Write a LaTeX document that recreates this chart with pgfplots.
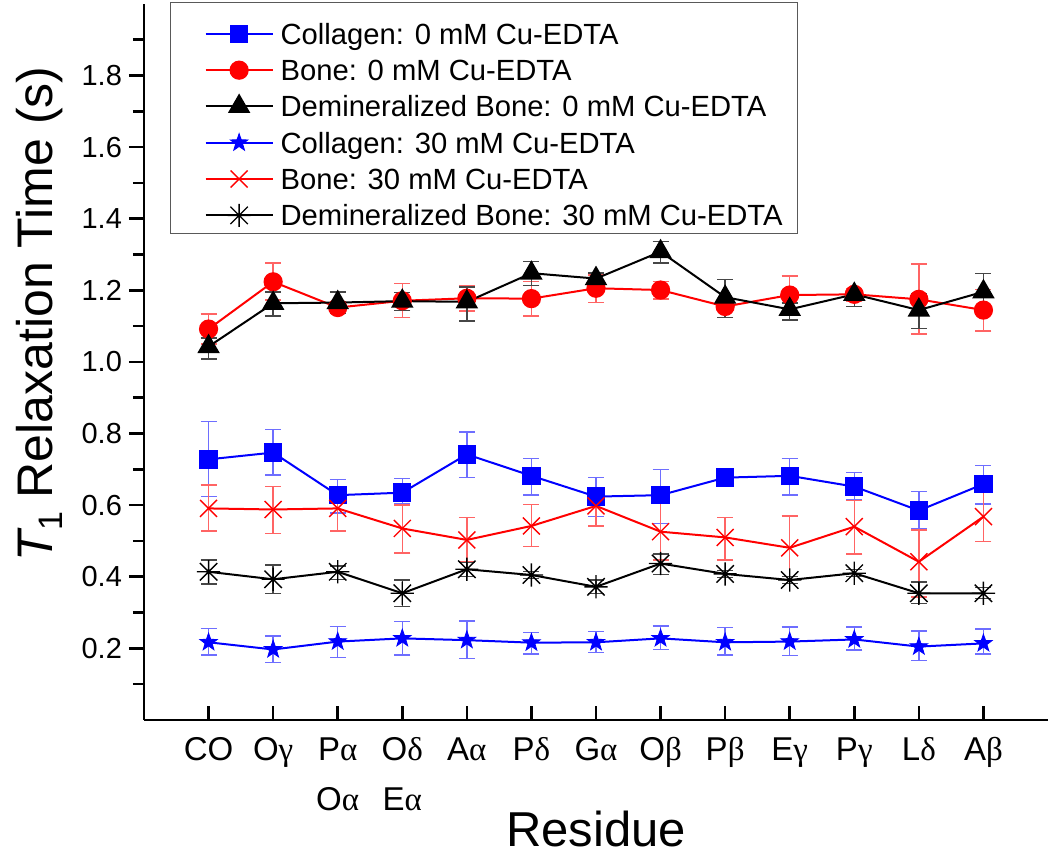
\documentclass[border=0pt]{standalone}
\usepackage{pgfplots}
\usepackage{pgfplotstable}
\pgfplotsset{compat=1.18}
\usepackage{fontspec}
\setmainfont{Liberation Sans}
\newfontfamily\grk{Liberation Serif}
\newcommand\g[1]{{\grk #1}}

\pgfdeclareplotmark{fstar}{%
  \pgfpathmoveto{\pgfpointpolar{90}{\pgfplotmarksize}}%
  \pgfpathlineto{\pgfpointpolar{126}{0.4\pgfplotmarksize}}%
  \pgfpathlineto{\pgfpointpolar{162}{\pgfplotmarksize}}%
  \pgfpathlineto{\pgfpointpolar{198}{0.4\pgfplotmarksize}}%
  \pgfpathlineto{\pgfpointpolar{234}{\pgfplotmarksize}}%
  \pgfpathlineto{\pgfpointpolar{270}{0.4\pgfplotmarksize}}%
  \pgfpathlineto{\pgfpointpolar{306}{\pgfplotmarksize}}%
  \pgfpathlineto{\pgfpointpolar{342}{0.4\pgfplotmarksize}}%
  \pgfpathlineto{\pgfpointpolar{18}{\pgfplotmarksize}}%
  \pgfpathlineto{\pgfpointpolar{54}{0.4\pgfplotmarksize}}%
  \pgfpathclose
  \pgfusepathqfillstroke
}
\pgfdeclareplotmark{ast8}{%
  \pgfpathmoveto{\pgfqpoint{-\pgfplotmarksize}{0pt}}%
  \pgfpathlineto{\pgfqpoint{\pgfplotmarksize}{0pt}}%
  \pgfpathmoveto{\pgfqpoint{0pt}{-\pgfplotmarksize}}%
  \pgfpathlineto{\pgfqpoint{0pt}{\pgfplotmarksize}}%
  \pgfpathmoveto{\pgfqpoint{-0.75\pgfplotmarksize}{-0.75\pgfplotmarksize}}%
  \pgfpathlineto{\pgfqpoint{0.75\pgfplotmarksize}{0.75\pgfplotmarksize}}%
  \pgfpathmoveto{\pgfqpoint{-0.75\pgfplotmarksize}{0.75\pgfplotmarksize}}%
  \pgfpathlineto{\pgfqpoint{0.75\pgfplotmarksize}{-0.75\pgfplotmarksize}}%
  \pgfusepathqstroke
}

\definecolor{eblue}{RGB}{110,110,255}
\definecolor{ered}{RGB}{255,100,100}
\definecolor{eblack}{RGB}{70,70,70}

\pgfplotstableread{
x y ep em
0 0.728 0.105 0.104
1 0.747 0.064 0.063
2 0.628 0.044 0.050
3 0.635 0.040 0.030
4 0.742 0.062 0.064
5 0.682 0.048 0.054
6 0.624 0.054 0.056
7 0.628 0.072 0.079
8 0.677 0.026 0.025
9 0.682 0.049 0.054
10 0.652 0.040 0.037
11 0.585 0.053 0.052
12 0.659 0.052 0.056
}\colA

\pgfplotstableread{
x y ep em
0 1.092 0.042 0.042
1 1.224 0.052 0.051
2 1.152 0.016 0.016
3 1.171 0.049 0.047
4 1.178 0.036 0.036
5 1.177 0.047 0.049
6 1.206 0.037 0.040
7 1.201 0.023 0.025
8 1.155 0.018 0.030
9 1.187 0.053 0.056
10 1.189 0.017 0.019
11 1.175 0.099 0.097
12 1.145 0.058 0.058
}\boneA

\pgfplotstableread{
x y ep em
0 1.043 0.024 0.035
1 1.164 0.031 0.036
2 1.166 0.029 0.030
3 1.170 0.024 0.027
4 1.168 0.042 0.053
5 1.248 0.032 0.035
6 1.233 0.016 0.032
7 1.308 0.028 0.032
8 1.181 0.050 0.056
9 1.147 0.018 0.030
10 1.189 0.010 0.034
11 1.145 0.047 0.051
12 1.196 0.052 0.041
}\demA

\pgfplotstableread{
x y ep em
0 0.217 0.039 0.035
1 0.197 0.038 0.036
2 0.219 0.042 0.045
3 0.228 0.047 0.046
4 0.223 0.054 0.051
5 0.216 0.029 0.032
6 0.217 0.030 0.028
7 0.228 0.034 0.031
8 0.217 0.042 0.035
9 0.219 0.041 0.039
10 0.225 0.035 0.029
11 0.205 0.044 0.039
12 0.214 0.040 0.030
}\colB

\pgfplotstableread{
x y ep em
0 0.591 0.065 0.063
1 0.588 0.064 0.067
2 0.591 0.062 0.063
3 0.535 0.065 0.069
4 0.503 0.062 0.061
5 0.542 0.060 0.058
6 0.598 0.050 0.056
7 0.526 0.087 0.079
8 0.510 0.056 0.063
9 0.481 0.089 0.088
10 0.540 0.073 0.076
11 0.442 0.089 0.098
12 0.568 0.074 0.070
}\boneB

\pgfplotstableread{
x y ep em
0 0.414 0.033 0.034
1 0.393 0.040 0.039
2 0.414 0.016 0.021
3 0.354 0.037 0.037
4 0.421 0.019 0.021
5 0.405 0.010 0.010
6 0.372 0.019 0.018
7 0.437 0.027 0.030
8 0.408 0.010 0.010
9 0.391 0.010 0.010
10 0.410 0.010 0.010
11 0.354 0.032 0.028
12 0.354 0.016 0.014
}\demB

\begin{document}
\begin{tikzpicture}
\path (-72pt,-67.5pt) rectangle (453pt,360pt);
\begin{axis}[
  scale only axis,
  width=452pt, height=358pt,
  xmin=-1, xmax=13, ymin=0, ymax=2.0,
  axis lines=left,
  axis line style={-, line width=1.3pt},
  tick align=outside,
  major tick length=7.5pt,
  minor tick length=5.5pt,
  tick style={line width=1.3pt, black},
  x tick style={yshift=7.2pt},
  xtick={0,...,12},
  xticklabels={CO, O\g{γ}, {P\g{α}\\O\g{α}}, {O\g{δ}\\E\g{α}}, A\g{α}, P\g{δ}, G\g{α}, O\g{β}, P\g{β}, E\g{γ}, P\g{γ}, L\g{δ}, A\g{β}},
  x tick label style={font=\fontsize{16.5}{25}\selectfont, align=center, inner sep=0pt, anchor=north, yshift=-1pt},
  ytick={0.2,0.4,...,1.8},
  minor ytick={0.1,0.3,...,1.9},
  y tick label style={font=\fontsize{14.5}{14.5}\selectfont, /pgf/number format/.cd, fixed, fixed zerofill, precision=1, assume math mode=true},
  xlabel={Residue},
  ylabel={{\itshape T}\raisebox{-0.35ex}{\fontsize{17}{17}\selectfont 1} Relaxation Time (s)},
  every axis x label/.style={at={(axis description cs:0.5,-0.176)}, anchor=base, font=\fontsize{24.5}{24.5}\selectfont},
  every axis y label/.style={at={(axis description cs:-0.1007,0.567)}, rotate=90, anchor=base, font=\fontsize{25}{25}\selectfont},
  legend style={at={(axis description cs:0.0288,1.0028)}, anchor=north west, draw=black!65, line width=0.6pt,
    font=\fontsize{14.6}{17}\selectfont, inner xsep=7.5pt, inner ysep=3.2pt, row sep=0pt,
    cells={anchor=base west},
    nodes={inner xsep=0pt, inner ysep=0pt, text height=17.65pt, text depth=0.15pt}},
  legend image code/.code={\path (0pt,0pt) (46.5pt,0pt);
    \draw[mark repeat=2,mark phase=2] plot coordinates {(9.5pt,5.2pt) (26.25pt,5.2pt) (43pt,5.2pt)};},
  error bars/y dir=both, error bars/y explicit,
  every axis plot/.append style={line width=1pt},
]
\addplot[blue, mark=square*, mark size=4.1pt, mark options={solid},
  error bars/error bar style={eblue, line width=0.7pt},
  error bars/error mark options={eblue, rotate=90, mark size=4pt, line width=0.7pt}]
  table[x=x, y=y, y error plus=ep, y error minus=em] {\colA};
\addlegendentry{Collagen: 0 mM Cu-EDTA}
\addplot[red, mark=*, mark size=4.3pt, mark options={solid},
  error bars/error bar style={ered, line width=0.7pt},
  error bars/error mark options={ered, rotate=90, mark size=4pt, line width=0.7pt}]
  table[x=x, y=y, y error plus=ep, y error minus=em] {\boneA};
\addlegendentry{Bone: 0 mM Cu-EDTA}
\addplot[black, mark=triangle*, mark size=5.5pt, mark options={solid},
  error bars/error bar style={eblack, line width=0.7pt},
  error bars/error mark options={eblack, rotate=90, mark size=4pt, line width=0.7pt}]
  table[x=x, y=y, y error plus=ep, y error minus=em] {\demA};
\addlegendentry{Demineralized Bone: 0 mM Cu-EDTA}
\addplot[blue, mark=fstar, mark size=4.6pt, mark options={solid, fill=blue, line width=0.4pt},
  error bars/error bar style={eblue, line width=0.7pt},
  error bars/error mark options={eblue, rotate=90, mark size=4pt, line width=0.7pt}]
  table[x=x, y=y, y error plus=ep, y error minus=em] {\colB};
\addlegendentry{Collagen: 30 mM Cu-EDTA}
\addplot[red, mark=x, mark size=6pt, mark options={solid, line width=0.7pt},
  error bars/error bar style={ered, line width=0.7pt},
  error bars/error mark options={ered, rotate=90, mark size=4pt, line width=0.7pt}]
  table[x=x, y=y, y error plus=ep, y error minus=em] {\boneB};
\addlegendentry{Bone: 30 mM Cu-EDTA}
\addplot[black, mark=ast8, mark size=5.8pt, mark options={solid, line width=0.7pt},
  error bars/error bar style={eblack, line width=0.7pt},
  error bars/error mark options={eblack, rotate=90, mark size=4pt, line width=0.7pt}]
  table[x=x, y=y, y error plus=ep, y error minus=em] {\demB};
\addlegendentry{Demineralized Bone: 30 mM Cu-EDTA}
\end{axis}
\end{tikzpicture}
\end{document}
